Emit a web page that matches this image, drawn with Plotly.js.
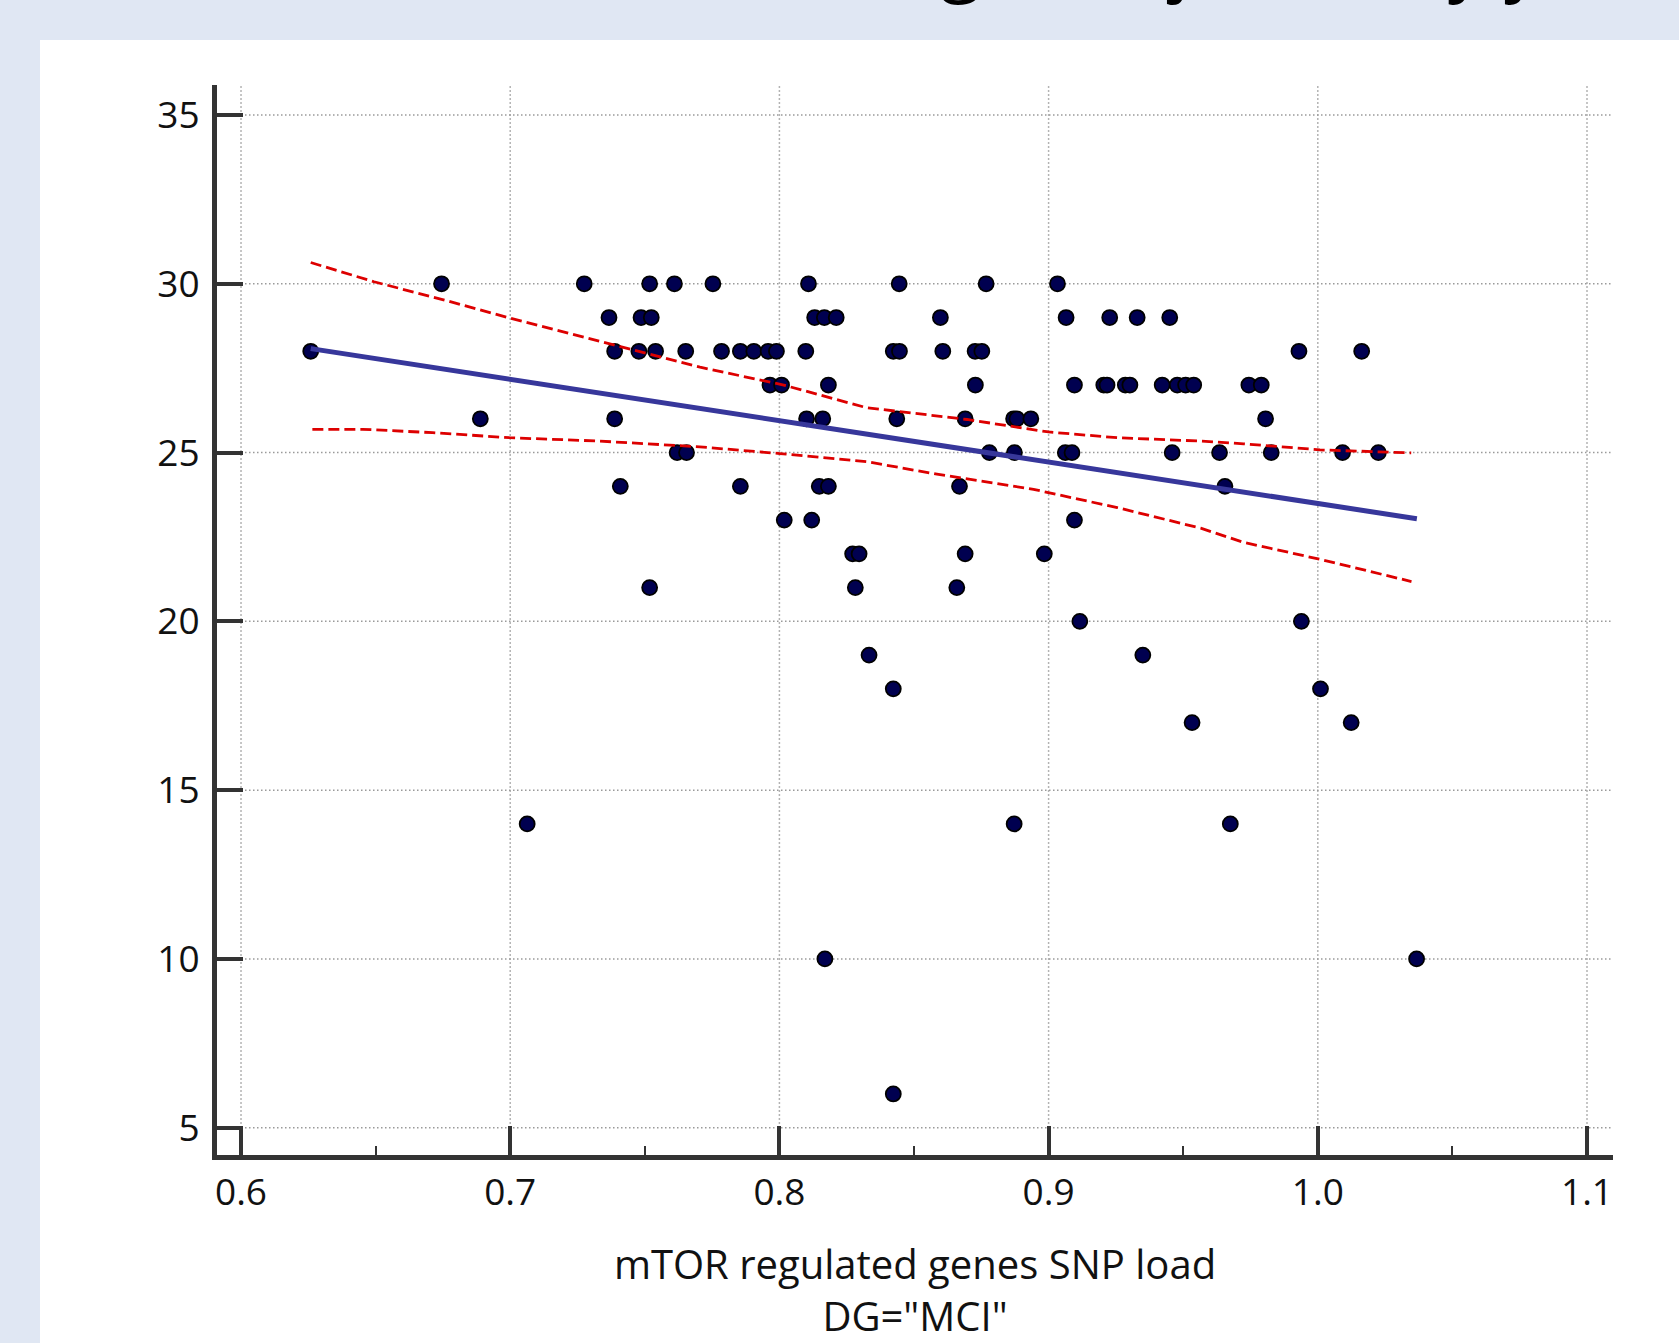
<!DOCTYPE html>
<html>
<head>
<meta charset="utf-8">
<script src="https://cdn.plot.ly/plotly-3.0.1.min.js"></script>
<style>html,body{margin:0;padding:0;background:#e0e7f3;}#chart{width:1679px;height:1343px;}</style>
</head>
<body>
<div id="chart"></div>
<script>
// ---- data ----
const snpLoad = [
  0.6745, 0.7275, 0.7518, 0.7610, 0.7753, 0.8108, 0.8445, 0.8768, 0.9033,
  0.7367, 0.7486, 0.7524, 0.8131, 0.8167, 0.8211, 0.8598, 0.9065, 0.9227, 0.9329, 0.9450,
  0.6259, 0.7388, 0.7478, 0.7540, 0.7652, 0.7785, 0.7855, 0.7905, 0.7958, 0.7989, 0.8098, 0.8423, 0.8446, 0.8607, 0.8727, 0.8752, 0.9930, 1.0163,
  0.7965, 0.8008, 0.8182, 0.8728, 0.9096, 0.9205, 0.9217, 0.9285, 0.9302, 0.9422, 0.9478, 0.9509, 0.9539, 0.9744, 0.9790,
  0.6889, 0.7388, 0.8101, 0.8161, 0.8436, 0.8690, 0.8870, 0.8882, 0.8934, 0.9806,
  0.7620, 0.7655, 0.8780, 0.8873, 0.9062, 0.9087, 0.9459, 0.9635, 0.9827, 1.0092, 1.0225,
  0.7409, 0.7855, 0.8148, 0.8182, 0.8669, 0.9655,
  0.8018, 0.8120, 0.9096,
  0.8272, 0.8296, 0.8690, 0.8984,
  0.7518, 0.8282, 0.8659,
  0.9116, 0.9939,
  0.8333, 0.9350,
  0.8423, 1.0010,
  0.9533, 1.0124,
  0.7063, 0.8872, 0.9675,
  0.8169, 1.0367,
  0.8423
];
const mmse = [
  30,30,30,30,30,30,30,30,30,
  29,29,29,29,29,29,29,29,29,29,29,
  28,28,28,28,28,28,28,28,28,28,28,28,28,28,28,28,28,28,
  27,27,27,27,27,27,27,27,27,27,27,27,27,27,27,
  26,26,26,26,26,26,26,26,26,26,
  25,25,25,25,25,25,25,25,25,25,25,
  24,24,24,24,24,24,
  23,23,23,
  22,22,22,22,
  21,21,21,
  20,20,
  19,19,
  18,18,
  17,17,
  14,14,14,
  10,10,
  6
];
const fitX = [0.6259, 1.0368];
const fitY = [28.08, 23.04];
const bandX = [0.6259, 0.6494, 0.6745, 0.6996, 0.7331, 0.7705, 0.8016, 0.8323, 0.8697, 0.9000, 0.9255, 0.9566, 0.9725, 1.0008, 1.0347];
const bandUpper = [30.63, 30.06, 29.54, 28.99, 28.30, 27.53, 27.00, 26.33, 25.98, 25.61, 25.44, 25.34, 25.26, 25.08, 24.99];
const bandLowX = [0.6265, 0.6451, 0.6712, 0.6997, 0.7332, 0.7704, 0.8002, 0.8324, 0.8585, 0.8944, 0.9255, 0.9565, 0.9724, 1.0007, 1.0348];
const bandLower = [25.69, 25.69, 25.59, 25.44, 25.34, 25.17, 24.97, 24.73, 24.36, 23.91, 23.37, 22.76, 22.34, 21.84, 21.18];
const xTicks = [0.6, 0.7, 0.8, 0.9, 1.0, 1.1];
const xTickText = ['0.6', '0.7', '0.8', '0.9', '1.0', '1.1'];
const yTicks = [5, 10, 15, 20, 25, 30, 35];
const xTitle = 'mTOR regulated genes SNP load<br>DG="MCI"';
const topTitle = '(Age - adjusted by yrs)';

// ---- layout geometry (pixels) ----
const W = 1679, H = 1343;
const M = {l: 217, r: 66, t: 0, b: 188};
const plotTopPx = 85;
const xRange = [0.59108, 1.10966];
const yRange = [4.191, 35.889];
const pw = W - M.l - M.r, ph = H - M.t - M.b;
const px2paperX = p => (p - M.l) / pw;
const px2paperY = p => 1 - (p - M.t) / ph;

const shapes = [];
// white panel
shapes.push({type: 'rect', xref: 'paper', yref: 'paper', layer: 'below',
  x0: px2paperX(40), x1: px2paperX(W + 5), y0: px2paperY(H + 5), y1: px2paperY(40),
  fillcolor: '#ffffff', line: {width: 0}});
const gridLine = {color: '#9a9a9a', width: 1.5, dash: '1.5px,2.5px'};
yTicks.forEach(v => shapes.push({type: 'line', xref: 'x', yref: 'y', layer: 'below',
  x0: xTicks[0], x1: xRange[1], y0: v, y1: v, line: gridLine}));
xTicks.forEach(v => shapes.push({type: 'line', xref: 'x', yref: 'y', layer: 'below',
  x0: v, x1: v, y0: yTicks[0], y1: yRange[1], line: gridLine}));

const traces = [
  {x: snpLoad, y: mmse, type: 'scatter', mode: 'markers', hoverinfo: 'x+y',
   marker: {size: 15, color: '#000050', line: {color: '#000000', width: 1.8}}},
  {x: bandX, y: bandUpper, type: 'scatter', mode: 'lines',
   line: {color: '#dd0000', width: 2.8, dash: '11px,5px'}},
  {x: bandLowX, y: bandLower, type: 'scatter', mode: 'lines',
   line: {color: '#dd0000', width: 2.8, dash: '11px,5px'}},
  {x: fitX, y: fitY, type: 'scatter', mode: 'lines',
   line: {color: '#37379b', width: 5}}
];

const fontFam = '"Open Sans", "Noto Sans", sans-serif';
const layout = {
  width: W, height: H,
  margin: M,
  paper_bgcolor: '#e0e7f3',
  plot_bgcolor: 'rgba(0,0,0,0)',
  showlegend: false,
  font: {family: fontFam, color: '#111111'},
  xaxis: {
    range: xRange, showgrid: false, zeroline: false,
    showline: true, linewidth: 5, linecolor: '#333333',
    tickmode: 'array', tickvals: xTicks, ticktext: xTickText,
    ticks: 'inside', ticklen: 29, tickwidth: 4, tickcolor: '#333333',
    ticklabelstandoff: 1,
    minor: {ticks: 'inside', ticklen: 9, tickwidth: 2, tickcolor: '#333333', dtick: 0.05, tick0: 0.6, showgrid: false},
    tickfont: {size: 37, family: fontFam, color: '#111111'},
    title: {text: xTitle, font: {size: 40, family: fontFam, color: '#111111'}, standoff: 40}
  },
  yaxis: {
    domain: [0, px2paperY(plotTopPx)],
    range: yRange, showgrid: false, zeroline: false,
    showline: true, linewidth: 5, linecolor: '#333333',
    tickmode: 'array', tickvals: yTicks,
    ticks: 'inside', ticklen: 26, tickwidth: 4, tickcolor: '#333333',
    ticklabelstandoff: 5,
    tickfont: {size: 37, family: fontFam, color: '#111111'}
  },
  shapes: shapes,
  annotations: [{
    text: topTitle, xref: 'paper', yref: 'paper', showarrow: false,
    x: px2paperX(870), xanchor: 'left', y: px2paperY(11), yanchor: 'bottom',
    font: {size: 74, family: fontFam, color: '#000000'}
  }]
};

Plotly.newPlot('chart', traces, layout, {displayModeBar: false, staticPlot: true});
</script>
</body>
</html>
